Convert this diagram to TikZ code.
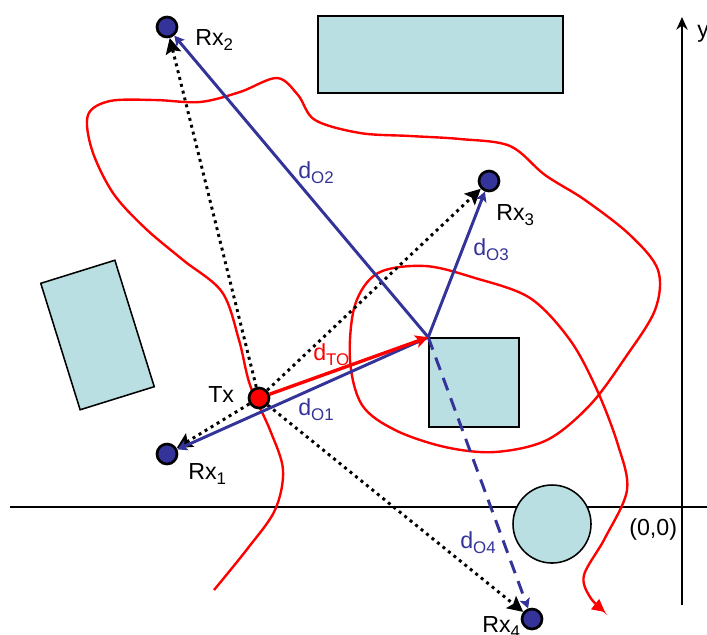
\documentclass[tikz,border=0pt]{standalone}
\usepackage{fontspec}
\setmainfont{Liberation Sans}
\usepackage{xcolor}
\usetikzlibrary{arrows.meta}
\definecolor{Obst}{HTML}{B9DFE3}
\definecolor{Blu}{HTML}{333399}
\definecolor{Rd}{HTML}{FF0000}
\newcommand{\lowidx}[1]{\raisebox{-3.6pt}{\fontsize{12}{13}\selectfont #1}}

\begin{document}
\begin{tikzpicture}[
  x=0.025cm, y=-0.025cm,
  every node/.style={font=\fontsize{16.5}{18}\selectfont},
  obst/.style={rectangle, draw=black, fill=Obst, line width=1.1pt, inner sep=0pt},
  rx/.style={circle, draw=black, fill=Blu, line width=1.9pt, minimum size=0.5cm, inner sep=0pt},
  tx/.style={circle, draw=black, fill=Rd, line width=1.9pt, minimum size=0.5cm, inner sep=0pt},
  axis/.style={line width=1.6pt, draw=black},
  dir/.style={-{Stealth[length=11pt,width=11pt,inset=2pt]}, line width=2.1pt, draw=black, dash pattern=on 2.1pt off 2.9pt},
  blu/.style={-{Stealth[length=7pt,width=7.5pt,inset=1.5pt]}, line width=2.1pt, draw=Blu},
  bdash/.style={blu, dash pattern=on 9.4pt off 6pt},
  rarr/.style={-{Stealth[length=9pt,width=9pt,inset=2pt]}, line width=2.4pt, draw=Rd},
  walk/.style={line width=1.7pt, draw=Rd},
  txt/.style={anchor=base west, inner sep=0pt},
  lbl/.style={txt, text=Blu},
]
\useasboundingbox (0,0) rectangle (707,634);
\clip (0,0) rectangle (707,634);
% axes
\coordinate (xa) at (10,507);
\coordinate (xb) at (707,507);
\coordinate (ya) at (682,605);
\coordinate (yb) at (682,17);
\draw[axis] (xa) -- (xb);
\draw[axis,-{Stealth[length=9pt,width=8pt]}] (ya) -- (yb);
% obstacles
\node[obst, minimum width=6.125cm, minimum height=1.925cm] (top) at (440.5,54.5) {};
\node[obst, minimum width=1.94cm, minimum height=3.31cm, rotate=17.3] (lft) at (97.5,335) {};
\node[obst, minimum width=2.25cm, minimum height=2.225cm] (sq) at (474,382.5) {};
\node[obst, circle, minimum size=1.95cm] (cir) at (552,524) {};
% random walk
\draw[walk, -{Triangle[length=9pt,width=9pt]}] plot[smooth, tension=0.55] coordinates {
  (214,590) (248,548) (275,510) (283,470) (270,430) (250,385) (239,340) (222,292)
  (183,260) (145,228) (113,193) (92,150) (88,115) (110,101) (155,100) (200,102)
  (240,92) (277,78) (298,95) (315,120) (360,133) (410,136) (460,139) (510,146)
  (545,175) (585,200) (630,235) (658,270) (655,310) (625,358) (590,405) (547,440)
  (495,452) (445,447) (395,430) (362,405) (350,360) (355,305) (378,273) (425,266)
  (475,278) (530,298) (570,340) (597,390) (618,445) (627,490) (605,538) (584,575)
  (590,597) (605,612)};
% direct paths
\node[rx] (rx1) at (167,454) {};
\node[rx] (rx2) at (167,27) {};
\node[rx] (rx3) at (489,181) {};
\node[rx] (rx4) at (532,619) {};
\node[tx] (tx) at (259,398) {};
\draw[dir] (tx) -- (rx1);
\draw[dir] (tx) -- (rx2);
\draw[dir] (tx) -- (rx3);
\draw[dir] (tx) -- (rx4);
\draw[blu] (sq.north west) -- (rx1);
\draw[blu] (sq.north west) -- (rx2);
\draw[blu] (sq.north west) -- (rx3);
\draw[bdash] (sq.north west) -- (rx4);
\draw[rarr] (tx) -- (sq.north west);
% labels
\node[txt] (ltx) at (208,402) {Tx};
\node[txt] (lr1) at (188,479) {Rx\lowidx{1}};
\node[txt] (lr2) at (195,45) {Rx\lowidx{2}};
\node[txt] (lr3) at (496,220) {Rx\lowidx{3}};
\node[txt] (lr4) at (482,632) {Rx\lowidx{4}};
\node[txt, text=Rd] (dto) at (313,360) {d\lowidx{TO}};
\node[lbl] (d1) at (298,415) {d\lowidx{O1}};
\node[lbl] (d2) at (298,178) {d\lowidx{O2}};
\node[lbl] (d3) at (473,255) {d\lowidx{O3}};
\node[lbl] (d4) at (460,548) {d\lowidx{O4}};
\node[txt] (org) at (629,535) {(0,0)};
\node[txt] (ly) at (697,37) {y};
\end{tikzpicture}
\end{document}
